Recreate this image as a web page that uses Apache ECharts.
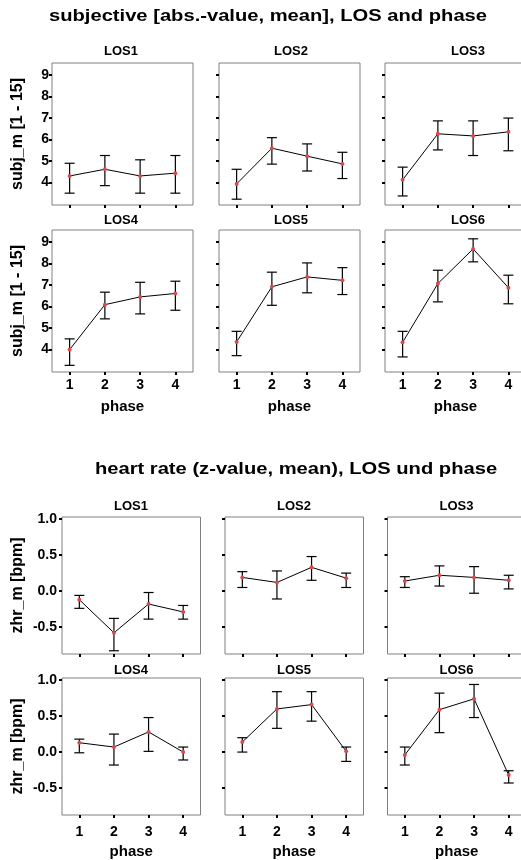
<!DOCTYPE html>
<html><head><meta charset="utf-8">
<script src="https://cdn.jsdelivr.net/npm/echarts@6/dist/echarts.min.js"></script>
<style>html,body{margin:0;padding:0;background:#fff}#c{width:521px;height:860px}</style>
</head><body><div id="c"></div>
<script>
const phases = ['1', '2', '3', '4'];
const losNames = ['LOS1', 'LOS2', 'LOS3', 'LOS4', 'LOS5', 'LOS6'];
const subjTicks = [4, 5, 6, 7, 8, 9];
const hrTicks = [-0.5, 0, 0.5, 1.0];

// subjective [abs.-value, mean]: mean and error-bar ends per LOS (phases 1-4)
const subjMean = [
  [4.30, 4.61, 4.30, 4.43],
  [3.93, 5.59, 5.22, 4.86],
  [4.12, 6.26, 6.16, 6.35],
  [3.99, 6.08, 6.44, 6.60],
  [4.35, 6.91, 7.37, 7.21],
  [4.33, 7.06, 8.67, 6.87]
];
const subjLow = [
  [3.50, 3.85, 3.50, 3.50],
  [3.22, 4.85, 4.53, 4.18],
  [3.37, 5.51, 5.25, 5.47],
  [3.26, 5.42, 5.65, 5.82],
  [3.71, 6.05, 6.63, 6.55],
  [3.65, 6.21, 8.07, 6.12]
];
const subjHigh = [
  [4.89, 5.25, 5.05, 5.25],
  [4.61, 6.08, 5.79, 5.40],
  [4.71, 6.86, 6.86, 6.99],
  [4.49, 6.66, 7.12, 7.17],
  [4.84, 7.59, 8.02, 7.80],
  [4.84, 7.68, 9.14, 7.45]
];

// heart rate (z-value, mean)
const hrMean = [
  [-0.12, -0.58, -0.18, -0.29],
  [0.19, 0.12, 0.33, 0.18],
  [0.14, 0.22, 0.19, 0.15],
  [0.13, 0.07, 0.28, 0.00],
  [0.14, 0.60, 0.66, 0.01],
  [-0.04, 0.59, 0.74, -0.32]
];
const hrLow = [
  [-0.24, -0.83, -0.39, -0.39],
  [0.05, -0.11, 0.15, 0.05],
  [0.05, 0.07, -0.03, 0.03],
  [-0.01, -0.18, 0.01, -0.11],
  [0.00, 0.33, 0.43, -0.13],
  [-0.18, 0.27, 0.48, -0.43]
];
const hrHigh = [
  [-0.06, -0.38, -0.02, -0.20],
  [0.27, 0.28, 0.48, 0.25],
  [0.20, 0.35, 0.34, 0.22],
  [0.18, 0.25, 0.48, 0.07],
  [0.20, 0.84, 0.84, 0.07],
  [0.07, 0.82, 0.94, -0.26]
];

const FONT = "'Liberation Sans', Arial, sans-serif";
const charts = [
  {
    title: 'subjective [abs.-value, mean], LOS and phase', titleX: 268, titleY: 17,
    cols: [52, 219, 385], width: 141, rows: [63, 230], height: 142,
    panelTitleX: [121, 291, 468], panelTitleY: [51.7, 220.5],
    min: 2.95, max: 9.55, ticks: subjTicks, fmt: v => String(v),
    yName: 'subj_m [1 - 15]', yNameGap: 26, yLabelMargin: 3,
    xLabelMargin: 6, xNameGap: 27,
    mean: subjMean, low: subjLow, high: subjHigh
  },
  {
    title: 'heart rate (z-value, mean), LOS und phase', titleX: 296, titleY: 470,
    cols: [62, 225, 387.5], width: 138.5, rows: [517, 678], height: 137,
    panelTitleX: [131, 294, 456.5], panelTitleY: [506.7, 670],
    min: -0.875, max: 1.03, ticks: hrTicks, fmt: v => v.toFixed(1),
    yName: 'zhr_m [bpm]', yNameGap: 36, yLabelMargin: 5,
    xLabelMargin: 10, xNameGap: 29,
    mean: hrMean, low: hrLow, high: hrHigh
  }
];

const grid = [], xAxis = [], yAxis = [], series = [], graphic = [];
let gi = 0;
charts.forEach(c => {
  graphic.push({
    type: 'text', x: c.titleX, y: c.titleY, scaleX: 1.26,
    style: { text: c.title, font: 'bold 16px ' + FONT, fill: '#000', align: 'center', verticalAlign: 'middle' }
  });
  for (let i = 0; i < 6; i++) {
    const col = i % 3, row = Math.floor(i / 3);
    grid.push({
      left: c.cols[col], top: c.rows[row], width: c.width, height: c.height,
      show: true, borderColor: '#808080', borderWidth: 1, backgroundColor: 'transparent',
      containLabel: false, outerBoundsMode: 'none'
    });
    graphic.push({
      type: 'text', x: c.panelTitleX[col], y: c.panelTitleY[row],
      style: { text: losNames[i], font: 'bold 13px ' + FONT, fill: '#000', align: 'center', verticalAlign: 'middle' }
    });
    xAxis.push({
      type: 'category', gridIndex: gi, data: phases, boundaryGap: true, position: 'bottom',
      axisLine: { show: false, onZero: false },
      axisTick: { show: true, alignWithLabel: true, length: 3, lineStyle: { color: '#000', width: 2 } },
      axisLabel: { show: row === 1, margin: c.xLabelMargin, fontSize: 14, fontWeight: 'bold', color: '#000', fontFamily: FONT },
      splitLine: { show: false },
      name: row === 1 ? 'phase' : '', nameLocation: 'middle', nameGap: c.xNameGap, nameMoveOverlap: false,
      nameTextStyle: { fontSize: 15, fontWeight: 'bold', color: '#000', fontFamily: FONT }
    });
    yAxis.push({
      type: 'value', gridIndex: gi, min: c.min, max: c.max, position: 'left',
      axisLine: { show: false, onZero: false },
      axisTick: { show: true, length: 3, lineStyle: { color: '#000', width: 2 }, customValues: c.ticks },
      axisLabel: {
        show: col === 0, customValues: c.ticks, formatter: c.fmt, margin: c.yLabelMargin,
        fontSize: 14, fontWeight: 'bold', color: '#000', fontFamily: FONT
      },
      splitLine: { show: false },
      name: col === 0 ? c.yName : '', nameLocation: 'middle', nameGap: c.yNameGap, nameMoveOverlap: false,
      nameTextStyle: { fontSize: 16, fontWeight: 'bold', color: '#000', fontFamily: FONT }
    });
    series.push({
      type: 'custom', xAxisIndex: gi, yAxisIndex: gi, z: 2, silent: true,
      data: phases.map((p, k) => [k, c.low[i][k], c.high[i][k]]),
      encode: { x: 0, y: [1, 2] },
      renderItem: (params, api) => {
        const lo = api.coord([api.value(0), api.value(1)]);
        const hi = api.coord([api.value(0), api.value(2)]);
        const hw = 5;
        const st = { stroke: '#000', lineWidth: 1.2 };
        return {
          type: 'group', children: [
            { type: 'line', shape: { x1: lo[0], y1: lo[1], x2: hi[0], y2: hi[1] }, style: st },
            { type: 'line', shape: { x1: lo[0] - hw, y1: lo[1], x2: lo[0] + hw, y2: lo[1] }, style: st },
            { type: 'line', shape: { x1: hi[0] - hw, y1: hi[1], x2: hi[0] + hw, y2: hi[1] }, style: st }
          ]
        };
      }
    });
    series.push({
      type: 'line', xAxisIndex: gi, yAxisIndex: gi, z: 3, silent: true,
      data: c.mean[i], symbol: 'circle', symbolSize: 4, showSymbol: true,
      lineStyle: { color: '#000', width: 1 },
      itemStyle: { color: '#d94a4a', borderWidth: 0 }
    });
    gi++;
  }
});

const chart = echarts.init(document.getElementById('c'), null, { renderer: 'canvas' });
chart.setOption({
  backgroundColor: '#fff', animation: false,
  grid, xAxis, yAxis, series, graphic
});
</script></body></html>
